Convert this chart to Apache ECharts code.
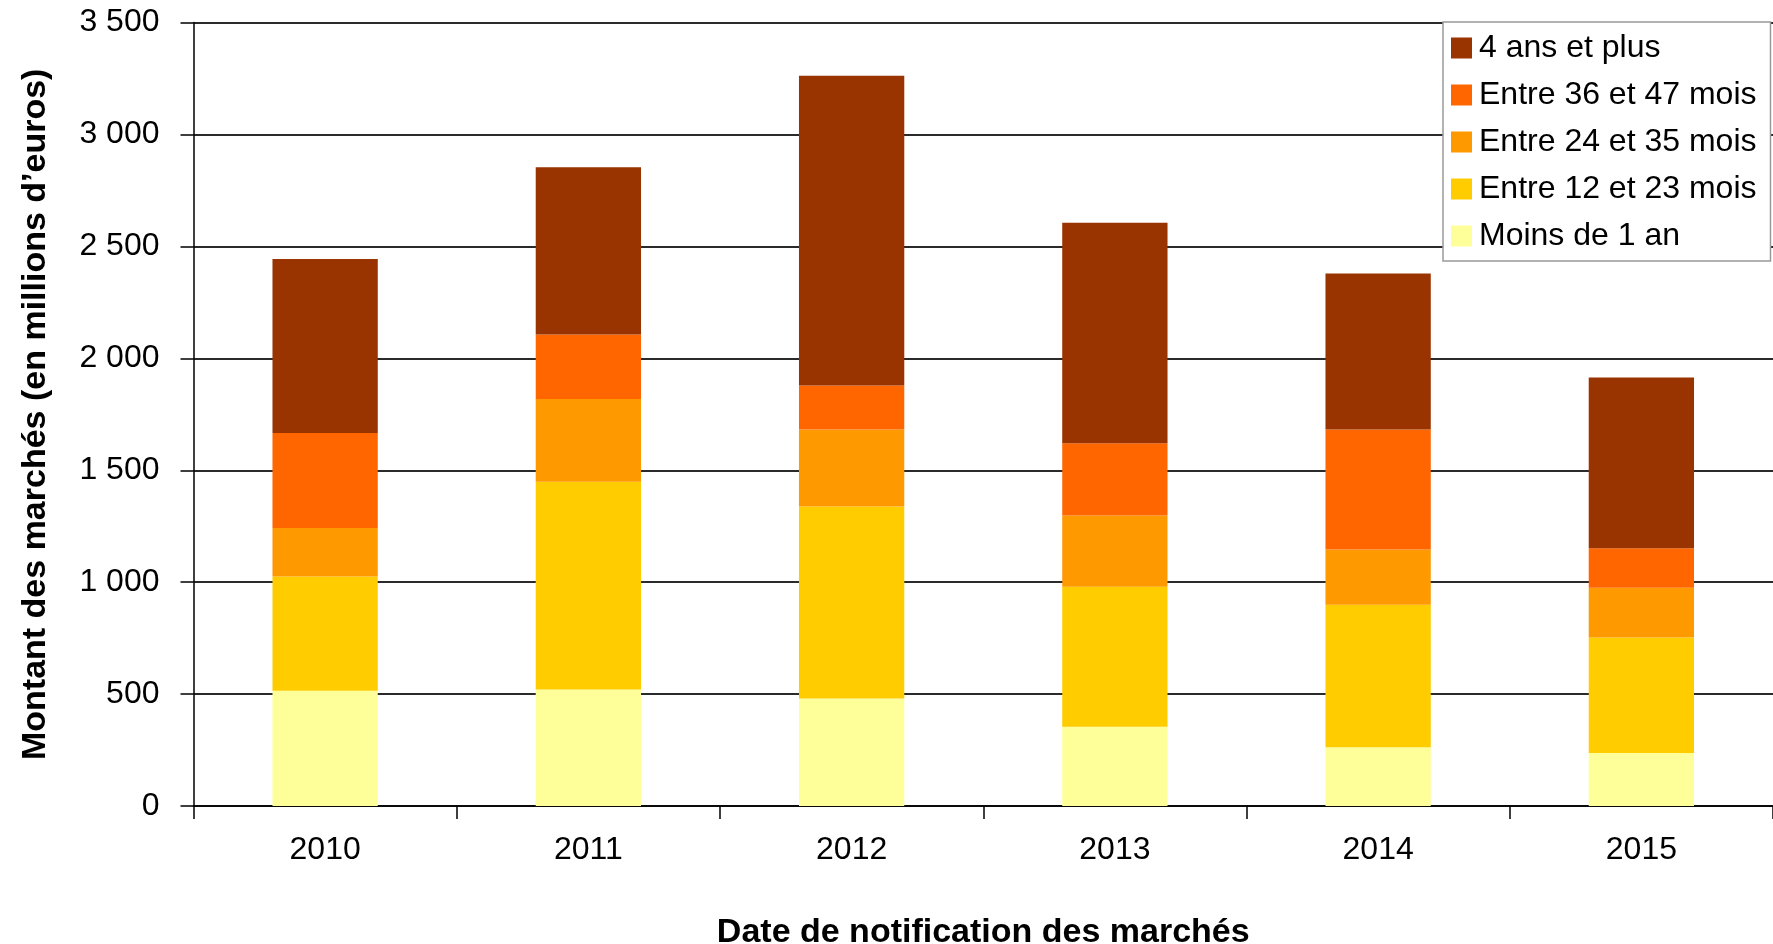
<!DOCTYPE html>
<html>
<head>
<meta charset="utf-8">
<script src="https://cdn.jsdelivr.net/npm/echarts@6/dist/echarts.min.js"></script>
<style>
html,body{margin:0;padding:0;background:#fff;}
#chart{width:1773px;height:944px;}
</style>
</head>
<body>
<div id="chart"></div>
<script>
var years = ['2010', '2011', '2012', '2013', '2014', '2015'];
var moins1an = [515, 520, 480, 354, 263, 237];
var entre12et23 = [510, 929, 858, 626, 636, 516];
var entre24et35 = [217, 369, 344, 318, 247, 222];
var entre36et47 = [425, 288, 197, 323, 536, 177];
var quatreAnsPlus = [777, 748, 1384, 985, 697, 762];
var seriesNames = ['Moins de 1 an', 'Entre 12 et 23 mois', 'Entre 24 et 35 mois', 'Entre 36 et 47 mois', '4 ans et plus'];
var seriesColors = ['#FFFF99', '#FFCC00', '#FF9900', '#FF6600', '#993300'];
var seriesData = [moins1an, entre12et23, entre24et35, entre36et47, quatreAnsPlus];

var chart = echarts.init(document.getElementById('chart'));
var font = 'Liberation Sans, Arial, sans-serif';
var series = seriesNames.map(function (name, i) {
  return {
    name: name,
    type: 'bar',
    stack: 'total',
    barWidth: '40%',
    data: seriesData[i],
    itemStyle: { color: seriesColors[i] }
  };
});
chart.setOption({
  animation: false,
  backgroundColor: '#fff',
  textStyle: { fontFamily: font },
  grid: { left: 193.5, right: 0, top: 22.6, bottom: 138, containLabel: false, outerBoundsMode: 'none' },
  legend: {
    data: seriesNames.slice().reverse(),
    orient: 'vertical',
    left: 1443,
    top: 22,
    padding: [10, 14, 9, 8],
    itemWidth: 21,
    itemHeight: 21,
    itemGap: 15,
    icon: 'rect',
    backgroundColor: '#fff',
    borderColor: '#999',
    borderWidth: 1.5,
    textStyle: { fontFamily: font, fontSize: 32, color: '#000', lineHeight: 32, padding: [0, 0, 0, 2] }
  },
  xAxis: {
    type: 'category',
    data: years,
    name: 'Date de notification des marchés',
    nameLocation: 'middle',
    nameGap: 110,
    nameTextStyle: { fontFamily: font, fontSize: 34, fontWeight: 'bold', color: '#000' },
    axisLine: { lineStyle: { color: '#000', width: 1.5 } },
    axisTick: { show: true, length: 13, inside: false, lineStyle: { color: '#000', width: 1.5 } },
    axisLabel: { fontFamily: font, fontSize: 32, color: '#000', margin: 28 }
  },
  yAxis: {
    type: 'value',
    min: 0,
    max: 3500,
    interval: 500,
    name: 'Montant des marchés (en millions d\u2019euros)',
    nameLocation: 'middle',
    nameRotate: 90,
    nameGap: 141,
    nameTextStyle: { fontFamily: font, fontSize: 34, fontWeight: 'bold', color: '#000' },
    axisLine: { show: true, lineStyle: { color: '#000', width: 1.5 } },
    axisTick: { show: true, length: 13, lineStyle: { color: '#000', width: 1.5 } },
    axisLabel: {
      fontFamily: font, fontSize: 32, color: '#000', margin: 34,
      formatter: function (v) { return String(v).replace(/\B(?=(\d{3})+(?!\d))/g, ' '); }
    },
    splitLine: { show: true, lineStyle: { color: '#2a2a2a', width: 2 } }
  },
  series: series
});
</script>
</body>
</html>
